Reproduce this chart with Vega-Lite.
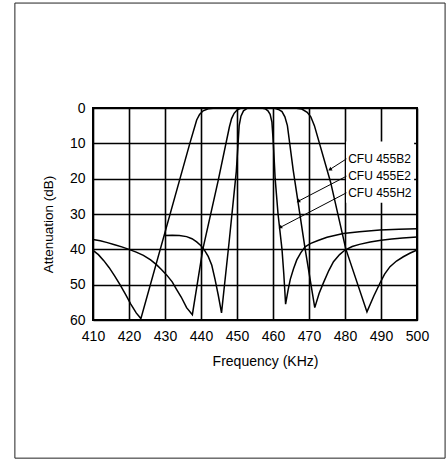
{
  "$schema": "https://vega.github.io/schema/vega-lite/v6.json",
  "width": 324,
  "height": 212,
  "autosize": {"type": "none"},
  "padding": {"left": 93, "top": 108, "right": 29, "bottom": 141},
  "background": "white",
  "config": {
    "font": "Liberation Sans",
    "view": {"stroke": "black", "strokeWidth": 2},
    "axis": {
      "grid": true, "gridColor": "black", "gridWidth": 1.6, "gridOpacity": 1,
      "domain": false, "ticks": false,
      "labelColor": "black", "labelFontSize": 14,
      "labelOverlap": false, "labelFlush": false, "labelBound": false,
      "titleColor": "black", "titleFontWeight": "normal"
    }
  },
  "datasets": {
    "curves": [
      {"series": "B2", "f": 410, "db": 40.3},
      {"series": "B2", "f": 411.5, "db": 41.5},
      {"series": "B2", "f": 413, "db": 43.2},
      {"series": "B2", "f": 414.5, "db": 45.2},
      {"series": "B2", "f": 416, "db": 47.5},
      {"series": "B2", "f": 417.5, "db": 50},
      {"series": "B2", "f": 419, "db": 52.7},
      {"series": "B2", "f": 420.5, "db": 55.5},
      {"series": "B2", "f": 422, "db": 58},
      {"series": "B2", "f": 423.3, "db": 59.6},
      {"series": "B2", "f": 436.9, "db": 10},
      {"series": "B2", "f": 438.8, "db": 3.4},
      {"series": "B2", "f": 439.6, "db": 1.8},
      {"series": "B2", "f": 440.6, "db": 0.8},
      {"series": "B2", "f": 442, "db": 0.2},
      {"series": "B2", "f": 444, "db": 0},
      {"series": "B2", "f": 466, "db": 0},
      {"series": "B2", "f": 468, "db": 0.3},
      {"series": "B2", "f": 469.5, "db": 1.2},
      {"series": "B2", "f": 470.5, "db": 2.5},
      {"series": "B2", "f": 471.5, "db": 5},
      {"series": "B2", "f": 476, "db": 21},
      {"series": "B2", "f": 480.2, "db": 39.8},
      {"series": "B2", "f": 486.1, "db": 57.7},
      {"series": "B2", "f": 488, "db": 53.2},
      {"series": "B2", "f": 489.7, "db": 49.6},
      {"series": "B2", "f": 491, "db": 47},
      {"series": "B2", "f": 492.5, "db": 44.9},
      {"series": "B2", "f": 494.3, "db": 43.3},
      {"series": "B2", "f": 496.2, "db": 42.1},
      {"series": "B2", "f": 498, "db": 41.1},
      {"series": "B2", "f": 500, "db": 40.2},
      {"series": "E2", "f": 410, "db": 37.2},
      {"series": "E2", "f": 412, "db": 37.6},
      {"series": "E2", "f": 414, "db": 38.1},
      {"series": "E2", "f": 416, "db": 38.7},
      {"series": "E2", "f": 418, "db": 39.3},
      {"series": "E2", "f": 420, "db": 40},
      {"series": "E2", "f": 422, "db": 40.8},
      {"series": "E2", "f": 424, "db": 41.7},
      {"series": "E2", "f": 426, "db": 43},
      {"series": "E2", "f": 427.7, "db": 44.4},
      {"series": "E2", "f": 429, "db": 45.7},
      {"series": "E2", "f": 430.5, "db": 47.3},
      {"series": "E2", "f": 432, "db": 49.2},
      {"series": "E2", "f": 433.2, "db": 51.3},
      {"series": "E2", "f": 434.5, "db": 53.5},
      {"series": "E2", "f": 436, "db": 56.5},
      {"series": "E2", "f": 437.6, "db": 58.5},
      {"series": "E2", "f": 440.5, "db": 40},
      {"series": "E2", "f": 444.8, "db": 20.4},
      {"series": "E2", "f": 447.9, "db": 5.3},
      {"series": "E2", "f": 448.5, "db": 3},
      {"series": "E2", "f": 449.2, "db": 1.5},
      {"series": "E2", "f": 450, "db": 0.6},
      {"series": "E2", "f": 451, "db": 0.1},
      {"series": "E2", "f": 452, "db": 0},
      {"series": "E2", "f": 459.5, "db": 0},
      {"series": "E2", "f": 460.5, "db": 0.1},
      {"series": "E2", "f": 461.5, "db": 0.4},
      {"series": "E2", "f": 462.5, "db": 1},
      {"series": "E2", "f": 463.3, "db": 2.5},
      {"series": "E2", "f": 464, "db": 5},
      {"series": "E2", "f": 465.6, "db": 17.5},
      {"series": "E2", "f": 468.9, "db": 39.7},
      {"series": "E2", "f": 471.6, "db": 56.5},
      {"series": "E2", "f": 472.8, "db": 52.5},
      {"series": "E2", "f": 474, "db": 49.5},
      {"series": "E2", "f": 475.5, "db": 46},
      {"series": "E2", "f": 476.8, "db": 43.5},
      {"series": "E2", "f": 478.5, "db": 41.5},
      {"series": "E2", "f": 480, "db": 40.2},
      {"series": "E2", "f": 482, "db": 39.2},
      {"series": "E2", "f": 484, "db": 38.6},
      {"series": "E2", "f": 487, "db": 37.9},
      {"series": "E2", "f": 490, "db": 37.4},
      {"series": "E2", "f": 493, "db": 37.1},
      {"series": "E2", "f": 496, "db": 36.8},
      {"series": "E2", "f": 500, "db": 36.5},
      {"series": "H2", "f": 429.8, "db": 36.1},
      {"series": "H2", "f": 432, "db": 36},
      {"series": "H2", "f": 434, "db": 36.1},
      {"series": "H2", "f": 436, "db": 36.4},
      {"series": "H2", "f": 437.5, "db": 37},
      {"series": "H2", "f": 438.8, "db": 37.9},
      {"series": "H2", "f": 440, "db": 39},
      {"series": "H2", "f": 441, "db": 40.3},
      {"series": "H2", "f": 442, "db": 42},
      {"series": "H2", "f": 443, "db": 44.5},
      {"series": "H2", "f": 443.9, "db": 48.5},
      {"series": "H2", "f": 444.8, "db": 53},
      {"series": "H2", "f": 445.7, "db": 58},
      {"series": "H2", "f": 447.8, "db": 38},
      {"series": "H2", "f": 449.8, "db": 18},
      {"series": "H2", "f": 450.3, "db": 10},
      {"series": "H2", "f": 450.6, "db": 5},
      {"series": "H2", "f": 451.1, "db": 2.3},
      {"series": "H2", "f": 451.8, "db": 0.8},
      {"series": "H2", "f": 452.8, "db": 0.1},
      {"series": "H2", "f": 453.5, "db": 0},
      {"series": "H2", "f": 456.8, "db": 0},
      {"series": "H2", "f": 457.8, "db": 0.2},
      {"series": "H2", "f": 458.6, "db": 0.8},
      {"series": "H2", "f": 459.2, "db": 1.8},
      {"series": "H2", "f": 459.7, "db": 4},
      {"series": "H2", "f": 460.1, "db": 10},
      {"series": "H2", "f": 460.6, "db": 20},
      {"series": "H2", "f": 461.4, "db": 30},
      {"series": "H2", "f": 462.5, "db": 40},
      {"series": "H2", "f": 463, "db": 47},
      {"series": "H2", "f": 463.5, "db": 55.5},
      {"series": "H2", "f": 464.2, "db": 51.5},
      {"series": "H2", "f": 464.8, "db": 48.5},
      {"series": "H2", "f": 465.7, "db": 45.5},
      {"series": "H2", "f": 466.6, "db": 43},
      {"series": "H2", "f": 467.7, "db": 41},
      {"series": "H2", "f": 468.9, "db": 39.3},
      {"series": "H2", "f": 470.5, "db": 38.3},
      {"series": "H2", "f": 472.5, "db": 37.5},
      {"series": "H2", "f": 475, "db": 36.6},
      {"series": "H2", "f": 479.5, "db": 35.5},
      {"series": "H2", "f": 484, "db": 35},
      {"series": "H2", "f": 489.7, "db": 34.5},
      {"series": "H2", "f": 495, "db": 34.3},
      {"series": "H2", "f": 500, "db": 34.2}
    ],
    "labels": [
      {"name": "CFU 455B2", "f": 480.6, "db": 14.4},
      {"name": "CFU 455E2", "f": 480.6, "db": 19.3},
      {"name": "CFU 455H2", "f": 480.6, "db": 24.0}
    ],
    "leaders": [
      {"name": "CFU 455B2", "f": 480.4, "db": 14.4, "f2": 475.8, "db2": 17.4},
      {"name": "CFU 455E2", "f": 480.4, "db": 19.3, "f2": 467, "db2": 26.4},
      {"name": "CFU 455H2", "f": 480.4, "db": 24.0, "f2": 462, "db2": 33.8}
    ],
    "tips": [
      {"name": "CFU 455B2", "f": 475.8, "db": 17.4},
      {"name": "CFU 455E2", "f": 467, "db": 26.4},
      {"name": "CFU 455H2", "f": 462, "db": 33.8}
    ],
    "box": [{"f": 480.3, "f2": 499.2, "db": 9.5, "db2": 26.8}],
    "frame": [{"f": 388.3, "f2": 507.8, "db": -29.7, "db2": 99.1}]
  },
  "encoding": {
    "x": {"field": "f", "type": "quantitative",
          "scale": {"domain": [410, 500], "nice": false, "zero": false},
          "axis": {"values": [410, 420, 430, 440, 450, 460, 470, 480, 490, 500], "tickCount": 12, "title": "Frequency (KHz)", "labelPadding": 9, "titleFontSize": 14, "titlePadding": 11, "titleX": 172}},
    "y": {"field": "db", "type": "quantitative",
          "scale": {"domain": [0, 60], "nice": false, "zero": false, "reverse": true},
          "axis": {"values": [0, 10, 20, 30, 40, 50, 60], "tickCount": 8, "title": "Attenuation (dB)", "labelPadding": 8, "titleFontSize": 13.5, "titlePadding": 14, "titleY": 116}}
  },
  "layer": [
    {
      "data": {"name": "frame"},
      "mark": {"type": "rect", "fill": null, "filled": false, "stroke": "#222", "strokeWidth": 1, "clip": false},
      "encoding": {
        "x2": {"field": "f2"},
        "y2": {"field": "db2"}
      }
    },
    {
      "data": {"name": "curves"},
      "mark": {"type": "line", "color": "black", "strokeWidth": 1.5, "interpolate": "linear"},
      "encoding": {
        "detail": {"field": "series"}
      }
    },
    {
      "data": {"name": "box"},
      "mark": {"type": "rect", "fill": "white", "stroke": null},
      "encoding": {
        "x2": {"field": "f2"},
        "y2": {"field": "db2"}
      }
    },
    {
      "data": {"name": "leaders"},
      "mark": {"type": "rule", "color": "black", "strokeWidth": 1},
      "encoding": {
        "x2": {"field": "f2"},
        "y2": {"field": "db2"}
      }
    },
    {
      "data": {"name": "tips"},
      "mark": {"type": "point", "shape": "triangle-up", "filled": true, "color": "black", "size": 18, "angle": 240, "opacity": 1},
      "encoding": {}
    },
    {
      "data": {"name": "labels"},
      "mark": {"type": "text", "align": "left", "baseline": "middle", "fontSize": 12, "color": "black", "dx": 1},
      "encoding": {
        "text": {"field": "name"}
      }
    }
  ]
}
